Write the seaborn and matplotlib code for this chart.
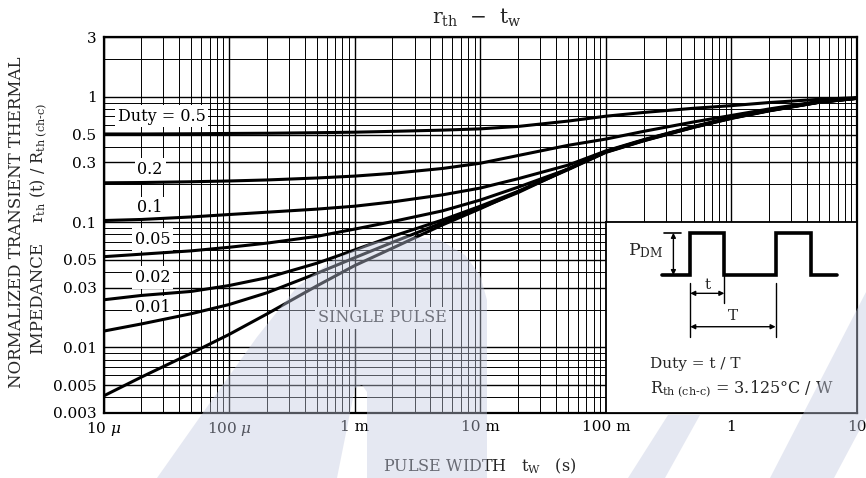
import numpy as np
import pandas as pd
import seaborn as sns
import matplotlib
matplotlib.use("Agg")
from matplotlib import pyplot as plt
from matplotlib.patches import Polygon

pulse_width = [1e-5, 2e-5, 5e-5, 1e-4, 2e-4, 5e-4, 1e-3, 2e-3, 5e-3, 1e-2,
               2e-2, 5e-2, 0.1, 0.2, 0.5, 1, 2, 5, 10]

# normalized transient thermal impedance for each duty
duty_05 = [0.505, 0.505, 0.507, 0.51, 0.512, 0.517, 0.522, 0.53, 0.542, 0.555,
           0.58, 0.64, 0.70, 0.75, 0.81, 0.85, 0.90, 0.955, 0.985]
duty_02 = [0.206, 0.207, 0.210, 0.213, 0.217, 0.225, 0.233, 0.245, 0.268, 0.295,
           0.34, 0.41, 0.46, 0.53, 0.63, 0.71, 0.80, 0.92, 0.978]
duty_01 = [0.103, 0.105, 0.110, 0.115, 0.120, 0.127, 0.134, 0.145, 0.165, 0.187,
           0.222, 0.285, 0.37, 0.455, 0.58, 0.685, 0.785, 0.91, 0.975]
duty_005 = [0.053, 0.0555, 0.059, 0.063, 0.068, 0.077, 0.088, 0.101, 0.123, 0.150,
            0.19, 0.265, 0.366, 0.452, 0.577, 0.68, 0.78, 0.908, 0.974]
duty_002 = [0.0240, 0.026, 0.028, 0.0312, 0.036, 0.047, 0.060, 0.077, 0.104, 0.134,
            0.176, 0.266, 0.364, 0.45, 0.575, 0.678, 0.778, 0.906, 0.973]
duty_001 = [0.0135, 0.0154, 0.0186, 0.022, 0.0273, 0.039, 0.052, 0.069, 0.099, 0.13,
            0.172, 0.265, 0.362, 0.447, 0.572, 0.675, 0.775, 0.905, 0.972]
single_pulse = [0.0041, 0.0058, 0.0090, 0.0127, 0.0185, 0.031, 0.045, 0.062, 0.095,
                0.128, 0.175, 0.262, 0.36, 0.445, 0.57, 0.672, 0.772, 0.903, 0.971]

curve_names = ['0.5', '0.2', '0.1', '0.05', '0.02', '0.01', 'single']
curve_values = [duty_05, duty_02, duty_01, duty_005, duty_002, duty_001, single_pulse]

x_ticks = [1e-5, 1e-4, 1e-3, 1e-2, 1e-1, 1, 10]
x_tick_labels = ['10 $\\mu$', '100 $\\mu$', '1 m', '10 m', '100 m', '1', '10']
y_ticks = [3, 1, 0.5, 0.3, 0.1, 0.05, 0.03, 0.01, 0.005, 0.003]
y_tick_labels = ['3', '1', '0.5', '0.3', '0.1', '0.05', '0.03', '0.01', '0.005', '0.003']

# curve labels (text, pulse width, value)
curve_labels = [('Duty = 0.5', 2.9e-5, 0.70), ('0.2', 2.35e-5, 0.262),
                ('0.1', 2.35e-5, 0.130), ('0.05', 2.45e-5, 0.0726),
                ('0.02', 2.45e-5, 0.0361), ('0.01', 2.45e-5, 0.0208),
                ('SINGLE PULSE', 1.65e-3, 0.0172)]

# faint background watermark outlines (figure pixels, y from top)
watermark_shapes = [
    [(157, 478), (207, 407), (257, 337), (297, 287), (333, 260), (370, 243),
     (405, 236), (440, 240), (465, 255), (480, 275), (487, 300), (487, 478),
     (367, 478), (367, 392), (362, 385), (355, 388), (337, 478)],
    [(770, 478), (866, 292), (866, 418), (834, 478)],
    [(628, 478), (668, 415), (700, 415), (665, 478)],
]


def build_frame() -> pd.DataFrame:
    frames = []
    for name, values in zip(curve_names, curve_values):
        frames.append(pd.DataFrame({'t': pulse_width, 'r': values, 'curve': name}))
    return pd.concat(frames, ignore_index=True)


def draw_inset(ax):
    ins = ax.inset_axes([0.1, 0.003, 10 - 0.1, 0.1 - 0.003], transform=ax.transData)
    ins.set_facecolor('white')
    ins.set_xlim(0, 1)
    ins.set_ylim(0, 1)
    ins.set_xticks([])
    ins.set_yticks([])
    for s in ins.spines.values():
        s.set_color('black')
        s.set_linewidth(1.3)

    low, high = 0.7225, 0.944
    wx = [0.225, 0.336, 0.336, 0.472, 0.472, 0.676, 0.676, 0.816, 0.816, 0.92]
    wy = [low, low, high, high, low, low, high, high, low, low]
    ins.plot(wx, wy, color='black', lw=2.6, solid_joinstyle='miter')

    # P_DM arrow
    ins.plot([0.232, 0.30], [high, high], color='black', lw=1.2)
    arrow = dict(arrowstyle='<|-|>', lw=1.0, color='black', shrinkA=0, shrinkB=0,
                 mutation_scale=7)
    ins.annotate('', xy=(0.269, high), xytext=(0.269, low), arrowprops=arrow)
    ins.text(0.228, 0.85, 'P$_\\mathregular{DM}$', ha='right', va='center', fontsize=12.5)

    # t and T markers
    ins.plot([0.336, 0.336], [0.679, 0.40], color='black', lw=1.0)
    ins.plot([0.472, 0.472], [low, 0.578], color='black', lw=1.0)
    ins.plot([0.676, 0.676], [0.679, 0.40], color='black', lw=1.0)
    ins.annotate('', xy=(0.336, 0.627), xytext=(0.472, 0.627), arrowprops=arrow)
    ins.annotate('', xy=(0.336, 0.452), xytext=(0.676, 0.452), arrowprops=arrow)
    ins.text(0.404, 0.635, 't', ha='center', va='bottom', fontsize=11)
    ins.text(0.506, 0.47, 'T', ha='center', va='bottom', fontsize=11)

    ins.text(0.175, 0.257, 'Duty = t / T', ha='left', va='center', fontsize=11)
    ins.text(0.175, 0.124, 'R$_\\mathregular{th\\ (ch\u2010c)}$ = 3.125\u00b0C / W',
             ha='left', va='center', fontsize=11.5)


def plot_thermal(df: pd.DataFrame, fig_location: str = 'out.png'):
    sns.set_theme(style='white')
    plt.rcParams['font.family'] = ['DejaVu Serif']
    plt.rcParams['mathtext.fontset'] = 'dejavuserif'

    fig = plt.figure(figsize=(8.66, 4.78), dpi=100)
    ax = fig.add_axes([103.5 / 866, 1 - 413 / 478, (857 - 103.5) / 866, (413 - 37) / 478])
    ax.set_xscale('log')
    ax.set_yscale('log')
    ax.set_xlim(1e-5, 10)
    ax.set_ylim(0.003, 3)

    sns.lineplot(data=df, x='t', y='r', hue='curve', palette=['black'] * len(curve_names),
                 legend=False, linewidth=2.2, ax=ax, zorder=4)

    ax.grid(True, which='major', color='black', lw=1.0)
    ax.grid(True, which='minor', color='black', lw=0.7)
    ax.set_axisbelow(True)

    ax.set_xticks(x_ticks)
    ax.set_xticklabels(x_tick_labels, fontsize=11)
    ax.set_yticks(y_ticks)
    ax.set_yticklabels(y_tick_labels, fontsize=11)
    ax.tick_params(which='both', length=0, pad=5, colors='black')
    ax.set_xlabel('')
    ax.set_ylabel('')
    for s in ax.spines.values():
        s.set_color('black')
        s.set_linewidth(1.6)

    for text, t, r in curve_labels:
        ax.text(t, r, text, ha='center', va='center', fontsize=11.5, zorder=3,
                color='#333333' if text == 'SINGLE PULSE' else 'black',
                bbox=dict(facecolor='white', edgecolor='none', pad=2))

    draw_inset(ax)

    fig.text(477 / 866, 1 - 18 / 478, 'r$_\\mathregular{th}$  \u2212  t$_\\mathregular{w}$',
             ha='center', va='center', fontsize=14.5)
    fig.text(480 / 866, 1 - 466 / 478, 'PULSE WIDTH   t$_\\mathregular{W}$   (s)',
             ha='center', va='center', fontsize=11.5)
    fig.text(17 / 866, 1 - 222 / 478, 'NORMALIZED TRANSIENT THERMAL',
             rotation=90, ha='center', va='center', fontsize=12)
    fig.text(39 / 866, 1 - 163 / 478,
             'r$_\\mathregular{th}$ (t) / R$_\\mathregular{th\\ (ch\u2010c)}$',
             rotation=90, ha='center', va='center', fontsize=11.5)
    fig.text(38 / 866, 1 - 298 / 478, 'IMPEDANCE',
             rotation=90, ha='center', va='center', fontsize=12)

    # watermark on top, semi transparent
    for shape in watermark_shapes:
        pts = [(x / 866, 1 - y / 478) for x, y in shape]
        fig.add_artist(Polygon(pts, closed=True, transform=fig.transFigure,
                               facecolor='#c3c9e0', edgecolor='none', alpha=0.42,
                               zorder=10))

    fig.savefig(fig_location, dpi=100)


if __name__ == "__main__":
    plot_thermal(build_frame())
